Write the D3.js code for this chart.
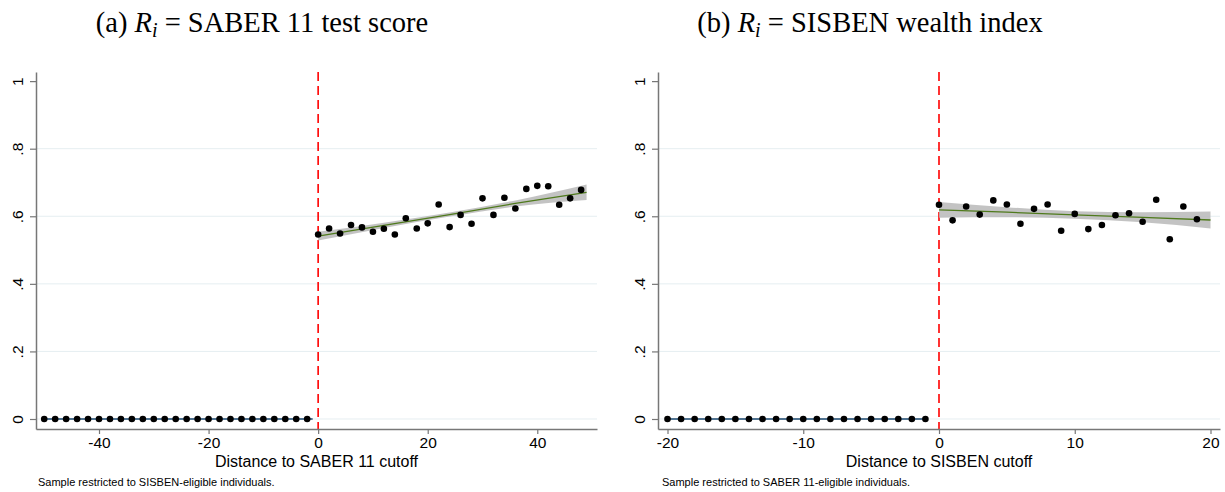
<!DOCTYPE html>
<html>
<head>
<meta charset="utf-8">
<script src="https://cdn.jsdelivr.net/npm/d3@7"></script>
<style>
  body { margin: 0; background: #fff; }
  svg { display: block; }
</style>
</head>
<body>
<svg id="chart" width="1225" height="492"></svg>
<script>
// panel (a): SABER 11 running variable, bins every 2 points
const binsA_left  = [-50,-48,-46,-44,-42,-40,-38,-36,-34,-32,-30,-28,-26,-24,-22,-20,-18,-16,-14,-12,-10,-8,-6,-4,-2];
const valsA_left  = [0,0,0,0,0,0,0,0,0,0,0,0,0,0,0,0,0,0,0,0,0,0,0,0,0];
const binsA_right = [0,2,4,6,8,10,12,14,16,18,20,22,24,26,28,30,32,34,36,38,40,42,44,46,48];
const valsA_right = [0.546,0.564,0.549,0.574,0.567,0.554,0.563,0.546,0.594,0.564,0.579,0.635,0.568,0.604,
                     0.578,0.653,0.604,0.655,0.623,0.681,0.690,0.689,0.634,0.653,0.678];
const fitA_x  = [0, 12, 24, 36, 49];
const fitA_y  = [0.541, 0.573, 0.605, 0.638, 0.671];
const fitA_lo = [0.528, 0.565, 0.599, 0.629, 0.648];
const fitA_hi = [0.554, 0.581, 0.611, 0.647, 0.694];
const zeroA_x = [-50, -1];

// panel (b): SISBEN running variable, unit bins
const binsB_left  = [-20,-19,-18,-17,-16,-15,-14,-13,-12,-11,-10,-9,-8,-7,-6,-5,-4,-3,-2,-1];
const valsB_left  = [0,0,0,0,0,0,0,0,0,0,0,0,0,0,0,0,0,0,0,0];
const binsB_right = [0,1,2,3,4,5,6,7,8,9,10,11,12,13,14,15,16,17,18,19];
const valsB_right = [0.634,0.588,0.629,0.605,0.647,0.635,0.578,0.622,0.635,0.557,
                     0.607,0.562,0.574,0.603,0.609,0.584,0.649,0.532,0.629,0.591];
const fitB_x  = [0, 5, 10, 15, 20];
const fitB_y  = [0.619, 0.612, 0.604, 0.597, 0.589];
const fitB_lo = [0.596, 0.597, 0.593, 0.582, 0.564];
const fitB_hi = [0.642, 0.627, 0.615, 0.612, 0.614];
const zeroB_x = [-20, -1];

const yTicks = [0, 0.2, 0.4, 0.6, 0.8, 1];
const yTickLabels = ["0", ".2", ".4", ".6", ".8", "1"];

const panels = [
  {
    key: "a", title: ["(a) ", " = SABER 11 test score"], titleX: 262,
    xDomain: [-51.5, 50.9], xRange: [36, 597], xTicks: [-40, -20, 0, 20, 40],
    xLabel: "Distance to SABER 11 cutoff",
    note: "Sample restricted to SISBEN-eligible individuals.", noteX: 38,
    binsL: binsA_left, valsL: valsA_left, binsR: binsA_right, valsR: valsA_right,
    fitX: fitA_x, fitY: fitA_y, lo: fitA_lo, hi: fitA_hi, zeroX: zeroA_x
  },
  {
    key: "b", title: ["(b) ", " = SISBEN wealth index"], titleX: 870,
    xDomain: [-20.7, 20.7], xRange: [658, 1220], xTicks: [-20, -10, 0, 10, 20],
    xLabel: "Distance to SISBEN cutoff",
    note: "Sample restricted to SABER 11-eligible individuals.", noteX: 662,
    binsL: binsB_left, valsL: valsB_left, binsR: binsB_right, valsR: valsB_right,
    fitX: fitB_x, fitY: fitB_y, lo: fitB_lo, hi: fitB_hi, zeroX: zeroB_x
  }
];

const svg = d3.select("#chart");
const sans = "'Liberation Sans', Arial, Helvetica, sans-serif";
const serif = "'Liberation Serif', 'Times New Roman', serif";

const y = d3.scaleLinear().domain([-0.0296, 1.027]).range([429, 72]);

panels.forEach(p => {
  const x = d3.scaleLinear().domain(p.xDomain).range(p.xRange);
  const g = svg.append("g").attr("class", "panel-" + p.key);

  // gridlines
  g.selectAll(".grid")
    .data(yTicks.filter(t => t < 1))
    .enter().append("line")
    .attr("class", "grid")
    .attr("x1", p.xRange[0]).attr("x2", p.xRange[1])
    .attr("y1", d => y(d)).attr("y2", d => y(d))
    .attr("stroke", "#e6eef1").attr("stroke-width", 1);

  // cutoff line
  g.append("line")
    .attr("x1", x(0)).attr("x2", x(0))
    .attr("y1", y.range()[1]).attr("y2", y.range()[0])
    .attr("stroke", "#ff0000").attr("stroke-width", 1.6)
    .attr("stroke-dasharray", "9,5");

  // confidence band
  const band = d3.area()
    .x((d, i) => x(p.fitX[i]))
    .y0((d, i) => y(p.lo[i]))
    .y1((d, i) => y(p.hi[i]))
    .curve(d3.curveMonotoneX);
  g.append("path")
    .datum(p.fitX)
    .attr("d", band)
    .attr("fill", "#b9b9b9").attr("fill-opacity", 0.85);

  // fitted line right of cutoff
  g.append("path")
    .datum(p.fitX)
    .attr("d", d3.line().x((d, i) => x(p.fitX[i])).y((d, i) => y(p.fitY[i])))
    .attr("fill", "none").attr("stroke", "#4f7a1c").attr("stroke-width", 1.3);

  // fitted line left of cutoff (all zero)
  g.append("line")
    .attr("x1", x(p.zeroX[0])).attr("x2", x(p.zeroX[1]))
    .attr("y1", y(0)).attr("y2", y(0))
    .attr("stroke", "#1a476f").attr("stroke-width", 1.3);

  // binned means
  const pts = p.binsL.map((b, i) => [b, p.valsL[i]])
    .concat(p.binsR.map((b, i) => [b, p.valsR[i]]));
  g.selectAll(".pt")
    .data(pts)
    .enter().append("circle")
    .attr("class", "pt")
    .attr("cx", d => x(d[0])).attr("cy", d => y(d[1]))
    .attr("r", 3.3).attr("fill", "#000");

  // x axis
  const xa = g.append("g")
    .attr("transform", `translate(0,${y.range()[0]})`)
    .call(d3.axisBottom(x).tickValues(p.xTicks).tickSize(5).tickSizeOuter(0).tickPadding(3)
      .tickFormat(d => d < 0 ? "-" + Math.abs(d) : d));
  xa.select(".domain").attr("stroke", "#777").attr("stroke-width", 1.5);
  xa.selectAll(".tick line").attr("stroke", "#777").attr("stroke-width", 1.2);
  xa.selectAll(".tick text").attr("font-family", sans).attr("font-size", 15.5).attr("fill", "#000");

  // y axis
  const ya = g.append("g")
    .attr("transform", `translate(${p.xRange[0]},0)`)
    .call(d3.axisLeft(y).tickValues(yTicks).tickSize(6).tickSizeOuter(0)
      .tickFormat((d, i) => yTickLabels[i]));
  ya.select(".domain").attr("stroke", "#777").attr("stroke-width", 1.5);
  ya.selectAll(".tick line").attr("stroke", "#777").attr("stroke-width", 1.2);
  ya.selectAll(".tick text")
    .attr("font-family", sans).attr("font-size", 15.5).attr("fill", "#000")
    .attr("text-anchor", "middle")
    .attr("transform", "rotate(-90)")
    .attr("x", 0).attr("y", -13).attr("dy", 0);

  // axis title
  g.append("text")
    .attr("x", (p.xRange[0] + p.xRange[1]) / 2).attr("y", 467)
    .attr("text-anchor", "middle")
    .attr("font-family", sans).attr("font-size", 16)
    .text(p.xLabel);

  // note
  g.append("text")
    .attr("x", p.noteX).attr("y", 486)
    .attr("font-family", sans).attr("font-size", 11)
    .text(p.note);

  // panel title
  const t = g.append("text")
    .attr("x", p.titleX).attr("y", 32)
    .attr("text-anchor", "middle")
    .attr("font-family", serif).attr("font-size", 28.5);
  t.append("tspan").text(p.title[0]);
  t.append("tspan").attr("font-style", "italic").text("R");
  t.append("tspan").attr("font-style", "italic").attr("font-size", 20).attr("dy", 5).text("i");
  t.append("tspan").attr("dy", -5).text(p.title[1]);
});
</script>
</body>
</html>
